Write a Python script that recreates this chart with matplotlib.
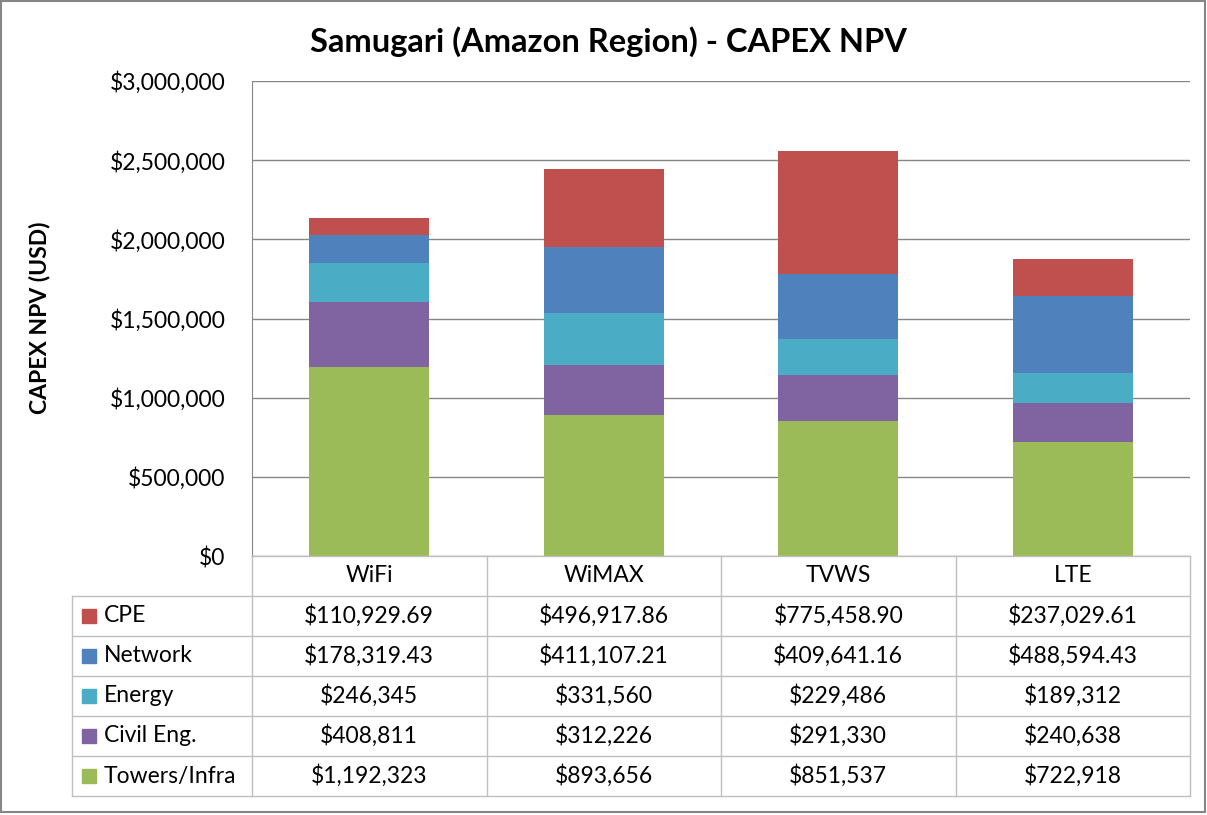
import matplotlib.pyplot as plt
import numpy as np

plt.rcParams['font.family'] = ['Lato', 'DejaVu Sans']

# data
techs = ['WiFi', 'WiMAX', 'TVWS', 'LTE']
series = ['Towers/Infra', 'Civil Eng.', 'Energy', 'Network', 'CPE']
towers = [1192323, 893656, 851537, 722918]
civil = [408811, 312226, 291330, 240638]
energy = [246345, 331560, 229486, 189312]
network = [178319.43, 411107.21, 409641.16, 488594.43]
cpe = [110929.69, 496917.86, 775458.90, 237029.61]
values = [towers, civil, energy, network, cpe]
decimals = [0, 0, 0, 2, 2]
colors = ['#9BBB59', '#8064A2', '#4BACC6', '#4F81BD', '#C0504D']

W, H = 1207, 815
fig = plt.figure(figsize=(W / 100, H / 100), dpi=100)

def fx(px):
    return px / W

def fy(py):
    return 1 - py / H

fs = 16.5

# plot area in pixels
L, R, T, B = 252, 1190, 81, 556
ax = fig.add_axes([fx(L), fy(B), fx(R) - fx(L), fy(T) - fy(B)])

x = np.arange(len(techs))
bottom = np.zeros(len(techs))
for vals, c in zip(values, colors):
    ax.bar(x, vals, 0.51, bottom=bottom, color=c, zorder=3)
    bottom += np.array(vals)

ax.set_xlim(-0.5, len(techs) - 0.5)
ax.set_ylim(0, 3000000)
ax.set_yticks(np.arange(0, 3000001, 500000))
ax.set_yticklabels(['${:,.0f}'.format(v) for v in ax.get_yticks()], fontsize=fs)
ax.set_xticks([])
ax.tick_params(axis='y', length=0, pad=19)
ax.grid(axis='y', color='#868686', lw=1, zorder=0)
for s in ['top', 'right', 'bottom']:
    ax.spines[s].set_visible(False)
ax.spines['left'].set_color('#868686')

fig.text(fx(40), fy(318), 'CAPEX NPV (USD)', rotation=90, fontsize=16.5,
         fontweight='bold', ha='center', va='center')
fig.text(fx(608), fy(42), 'Samugari (Amazon Region) - CAPEX NPV', fontsize=23.5,
         fontweight='bold', ha='center', va='center')

# data table
line_c = '#BFBFBF'
col_w = (R - L) / len(techs)
row_h = 40
TL = 72
tb = B + row_h * (len(series) + 1)
fig.add_artist(plt.Line2D([fx(L), fx(R)], [fy(B), fy(B)], color=line_c, lw=1))
for i in range(len(techs) + 1):
    xp = L + i * col_w
    fig.add_artist(plt.Line2D([fx(xp), fx(xp)], [fy(B), fy(tb)], color=line_c, lw=1))
for j in range(len(series) + 1):
    yp = B + row_h * (j + 1)
    fig.add_artist(plt.Line2D([fx(TL), fx(R)], [fy(yp), fy(yp)], color=line_c, lw=1))
fig.add_artist(plt.Line2D([fx(TL), fx(TL)], [fy(B + row_h), fy(tb)], color=line_c, lw=1))

for i, t in enumerate(techs):
    fig.text(fx(L + (i + 0.5) * col_w), fy(B + row_h / 2), t, fontsize=fs,
             ha='center', va='center')

for j, k in enumerate(range(len(series) - 1, -1, -1)):
    yc = B + row_h * (j + 1.5)
    fig.add_artist(plt.Rectangle((fx(82), fy(yc + 7)), fx(14), 14 / H,
                                 color=colors[k], transform=fig.transFigure))
    fig.text(fx(104), fy(yc), series[k], fontsize=fs, ha='left', va='center')
    for i in range(len(techs)):
        fmt = '${:,.%df}' % decimals[k]
        fig.text(fx(L + (i + 0.5) * col_w), fy(yc), fmt.format(values[k][i]),
                 fontsize=fs, ha='center', va='center')

# outer border
fig.add_artist(plt.Rectangle((fx(1), fy(812)), fx(1204), 811 / H, fill=False,
                             edgecolor='#868686', lw=1.5, transform=fig.transFigure))

fig.savefig('out.png', dpi=100)
